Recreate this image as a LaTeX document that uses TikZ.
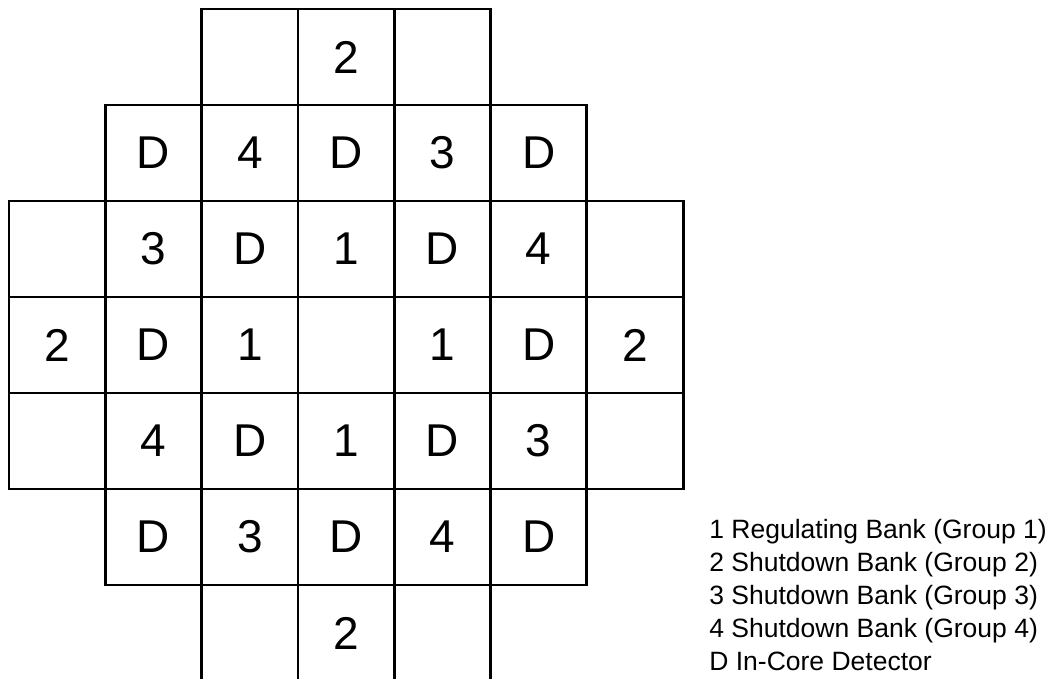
\documentclass[tikz,border=0pt]{standalone}
\usepackage{fontspec}
\setmainfont{Liberation Sans}
\usetikzlibrary{positioning}

\begin{document}
\begin{tikzpicture}[
      x=0.5pt, y=0.5pt,
      node distance=0pt,
      cell/.style={rectangle, draw=black, line width=1.4pt, outer sep=0pt, inner sep=0pt, text centered, minimum width=48.15pt, minimum height=48pt, font=\fontsize{23}{27}\selectfont},
      legend/.style={align=left, inner sep=0pt, font=\fontsize{13.25}{16.5}\selectfont}
    ]
      \clip (0,0) rectangle (1055,679);

      % middle row
      \node[cell] (r4c1) at (57.2,334) {2};
      \node[cell, right=of r4c1] (r4c2) {D};
      \node[cell, right=of r4c2] (r4c3) {1};
      \node[cell, right=of r4c3] (r4c4) {};
      \node[cell, right=of r4c4] (r4c5) {1};
      \node[cell, right=of r4c5] (r4c6) {D};
      \node[cell, right=of r4c6] (r4c7) {2};

      % rows above
      \node[cell, above=of r4c1] (r3c1) {};
      \node[cell, above=of r4c2] (r3c2) {3};
      \node[cell, above=of r4c3] (r3c3) {D};
      \node[cell, above=of r4c4] (r3c4) {1};
      \node[cell, above=of r4c5] (r3c5) {D};
      \node[cell, above=of r4c6] (r3c6) {4};
      \node[cell, above=of r4c7] (r3c7) {};

      \node[cell, above=of r3c2] (r2c2) {D};
      \node[cell, above=of r3c3] (r2c3) {4};
      \node[cell, above=of r3c4] (r2c4) {D};
      \node[cell, above=of r3c5] (r2c5) {3};
      \node[cell, above=of r3c6] (r2c6) {D};

      \node[cell, above=of r2c3] (r1c3) {};
      \node[cell, above=of r2c4] (r1c4) {2};
      \node[cell, above=of r2c5] (r1c5) {};

      % rows below
      \node[cell, below=of r4c1] (r5c1) {};
      \node[cell, below=of r4c2] (r5c2) {4};
      \node[cell, below=of r4c3] (r5c3) {D};
      \node[cell, below=of r4c4] (r5c4) {1};
      \node[cell, below=of r4c5] (r5c5) {D};
      \node[cell, below=of r4c6] (r5c6) {3};
      \node[cell, below=of r4c7] (r5c7) {};

      \node[cell, below=of r5c2] (r6c2) {D};
      \node[cell, below=of r5c3] (r6c3) {3};
      \node[cell, below=of r5c4] (r6c4) {D};
      \node[cell, below=of r5c5] (r6c5) {4};
      \node[cell, below=of r5c6] (r6c6) {D};

      \node[cell, below=of r6c3] (r7c3) {};
      \node[cell, below=of r6c4] (r7c4) {2};
      \node[cell, below=of r6c5] (r7c5) {};

      % key
      \node[legend, anchor=north west] (key) at (709,160) {1 Regulating Bank (Group 1)\\2 Shutdown Bank (Group 2)\\3 Shutdown Bank (Group 3)\\4 Shutdown Bank (Group 4)\\D In-Core Detector};
    \end{tikzpicture}
\end{document}
